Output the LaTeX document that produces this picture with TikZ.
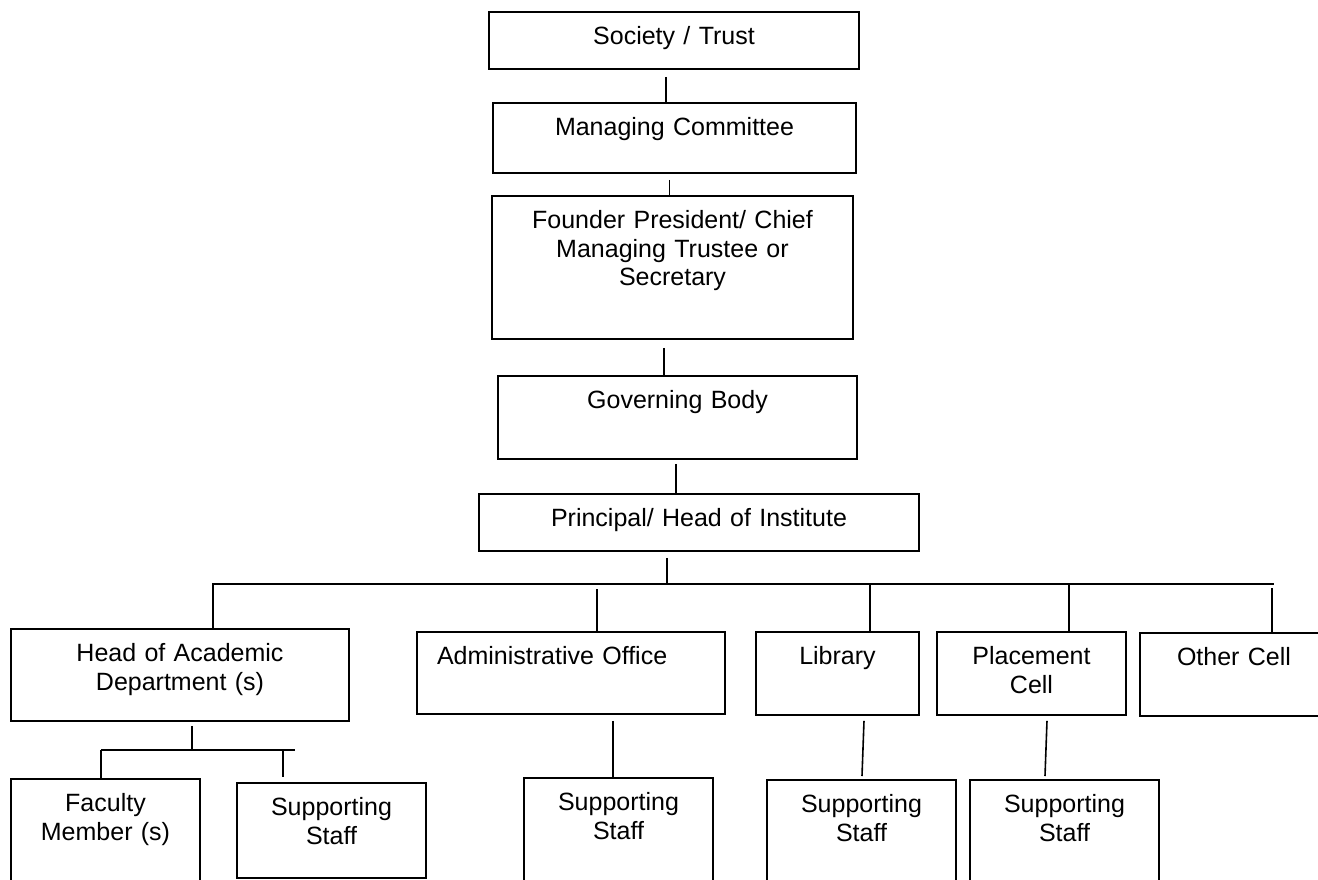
\documentclass[tikz,border=0pt]{standalone}
\usepackage{fontspec}
\setmainfont{Liberation Sans}
\usetikzlibrary{calc}
\tikzstyle{box}=[%
  draw,
  line width=1.8pt,
  anchor=north,
  inner sep=0pt,
  align=center,
  text height=33pt,
  font=\fontsize{25}{28.5}\selectfont
]
\tikzstyle{link}=[line width=1.6pt]

\begin{document}
\begin{tikzpicture}[x=1pt, y=-1pt]
    \useasboundingbox (0,0) rectangle (1318,879);
    \clip (0,0) rectangle (1318,879);

    \node[box, text width=370pt, text depth=24pt] (soc) at (674, 11) {Society / Trust};
    \node[box, text width=363pt, text depth=37pt] (mc) at (674.5, 102) {Managing Committee};
    \node[box, text width=361pt, text depth=110pt] (fp) at (672.5, 195) {Founder President/ Chief\\Managing Trustee or\\Secretary};
    \node[box, text width=359pt, text depth=50pt] (gb) at (677.5, 375) {Governing Body};
    \node[box, text width=440pt, text depth=24pt] (pr) at (699, 493) {Principal/ Head of Institute};

    \node[box, text width=338pt, text depth=59pt] (hod) at (180, 628) {Head of Academic\\Department (s)};
    \node[box, align=left, inner xsep=20pt, text width=268pt, text depth=49pt] (adm) at (571, 631) {Administrative Office};
    \node[box, text width=163pt, text depth=50pt] (lib) at (837.5, 631) {Library};
    \node[box, text width=189pt, text depth=50pt] (plc) at (1031.5, 631) {Placement\\Cell};
    \node[box, text width=188pt, text depth=50pt] (oth) at (1234, 632) {Other Cell};

    \node[box, text width=189pt, text depth=128pt] (fac) at (105.5, 778) {Faculty\\Member (s)};
    \node[box, text width=189pt, text depth=62pt] (ass) at (331.5, 782) {Supporting\\Staff};
    \node[box, text width=189pt, text depth=128pt] (ads) at (618.5, 777) {Supporting\\Staff};
    \node[box, text width=189pt, text depth=128pt] (lbs) at (861.5, 779) {Supporting\\Staff};
    \node[box, text width=189pt, text depth=128pt] (pls) at (1064.5, 779) {Supporting\\Staff};

    \draw[link] ([xshift=-8pt, yshift=-7pt]soc.south) -- ([xshift=-8pt]soc.south |- mc.north);
    \draw[link] ([xshift=-5pt, yshift=-6pt]mc.south) -- ([xshift=-5pt]mc.south |- fp.north);
    \draw[link] ([xshift=-8.5pt, yshift=-8pt]fp.south) -- ([xshift=-8.5pt]fp.south |- gb.north);
    \draw[link] ([xshift=-1.5pt, yshift=-4pt]gb.south) -- ([xshift=-1.5pt]gb.south |- pr.north);

    \coordinate (busL) at (212, 584);
    \coordinate (busR) at (1274, 584);
    \draw[link] ([xshift=-32pt, yshift=-6pt]pr.south) -- ([xshift=-32pt]pr.south |- busL);
    \draw[link] (busL) -- (busR);
    \foreach \n/\dx/\gap in {hod/33/0, adm/26/5, lib/32.5/0, plc/37.5/0, oth/38/4} {%
      \draw[link] ([xshift=\dx pt, yshift=-\gap pt]\n.north |- busL) -- ([xshift=\dx pt]\n.north);
    }

    \coordinate (subL) at (101, 750);
    \coordinate (subR) at (295, 750);
    \draw[link] ([xshift=12pt, yshift=-4pt]hod.south) -- ([xshift=12pt]hod.south |- subL);
    \draw[link] (subL) -- (subR);
    \draw[link] (subL) -- (subL |- fac.north);
    \draw[link] ([xshift=-48.5pt]ass.north |- subL) -- ([xshift=-48.5pt, yshift=5pt]ass.north);

    \draw[link] ([xshift=42pt, yshift=-6pt]adm.south) -- ([xshift=-5.5pt]ads.north);
    \draw[link] ([xshift=26.5pt, yshift=-5pt]lib.south) -- ([xshift=0.5pt, yshift=3pt]lbs.north);
    \draw[link] ([xshift=15.5pt, yshift=-5pt]plc.south) -- ([xshift=-19.5pt, yshift=3pt]pls.north);
  \end{tikzpicture}
\end{document}
